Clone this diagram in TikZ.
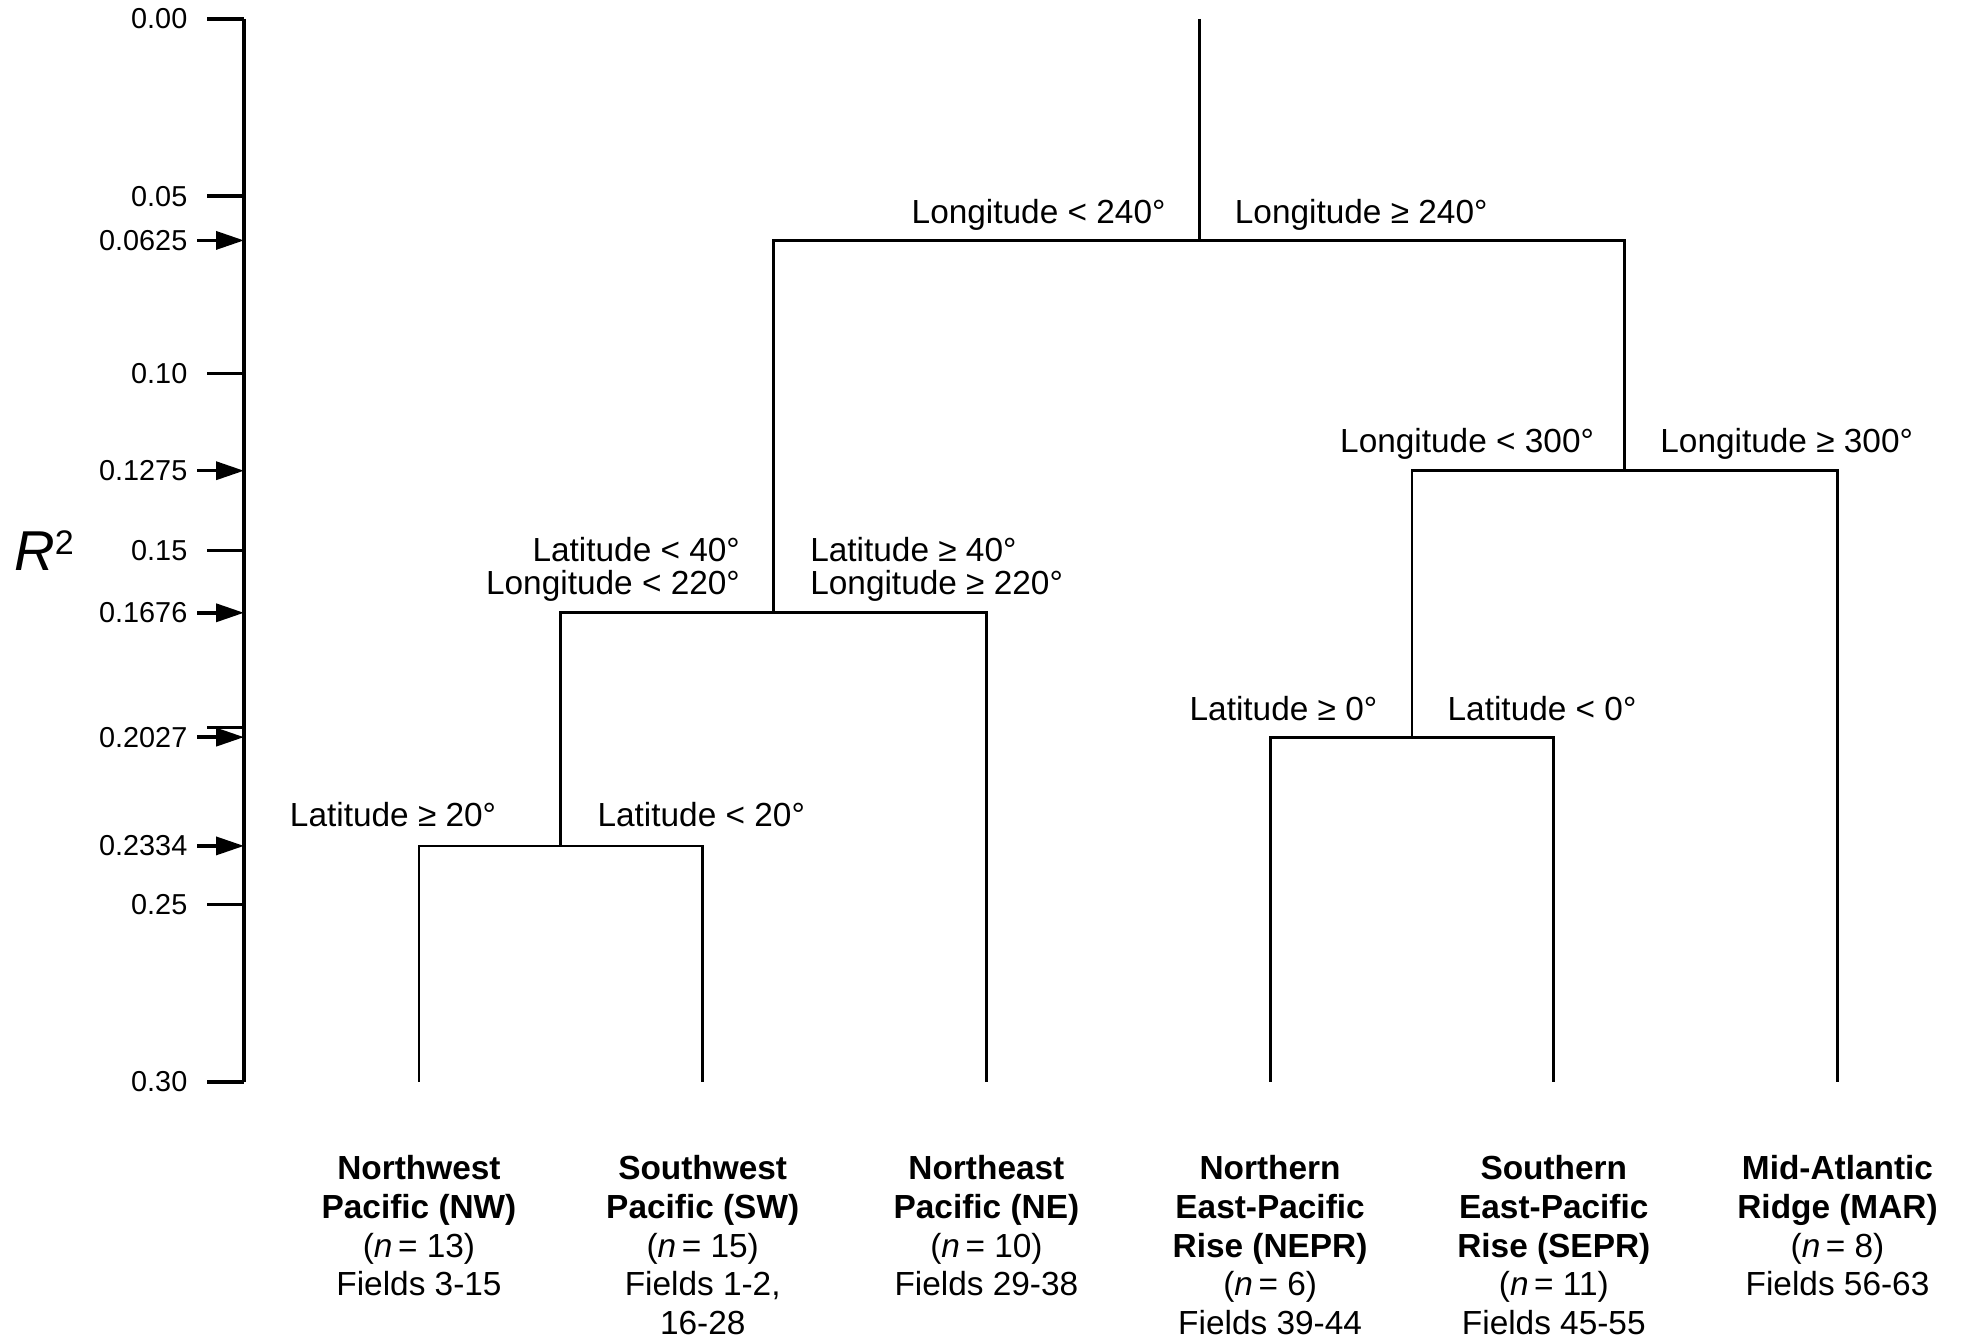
\documentclass[tikz,border=0pt]{standalone}
\usepackage{fontspec}
\setmainfont{Liberation Sans}
\usetikzlibrary{arrows.meta,positioning}

\tikzset{
  branch/.style={line width=0.8pt},
  axisline/.style={line width=1pt},
  cutarrow/.style={-{Triangle[length=2.8mm,width=1.8mm]},line width=1pt},
  ticklbl/.style={anchor=east,inner sep=0pt,font=\fontsize{8.2}{9}\selectfont},
  splitlbl/.style={inner sep=0pt,font=\fontsize{9.5}{9.3}\selectfont},
  leaflbl/.style={align=center,inner sep=0pt,font=\fontsize{9.5}{11}\selectfont}
}

\begin{document}
\begin{tikzpicture}[x=1cm,y=-35.43cm]
  \useasboundingbox (0,-0.00536) rectangle (19.65,0.37228);
  % R^2 axis
  \draw[axisline] (2.44,0) -- (2.44,0.30);
  \foreach \r/\t [count=\i] in {0/0.00,0.05/0.05,0.10/0.10,0.15/0.15,0.25/0.25,0.30/0.30} {
    \draw[axisline] (2.07,\r) -- (2.44,\r);
    \node[ticklbl] (tick\i) at (1.88,\r) {\t};
  }
  \draw[axisline] (2.07,0.20) -- (2.44,0.20);
  \foreach \r [count=\i] in {0.0625,0.1275,0.1676,0.2027,0.2334} {
    \node[ticklbl] (cut\i) at (1.88,\r) {\r};
    \coordinate (ax\i) at (2.44,\r);
    \draw[cutarrow] ([xshift=0.9mm]cut\i.east) -- (ax\i);
  }
  \node (rsq) at (0.44,0.15) {\fontsize{16}{18}\selectfont\textit{R}\raisebox{4.5pt}{\fontsize{9.7}{10}\selectfont 2}};

  % splits and leaves
  \coordinate (top) at (11.992,0);
  \coordinate (s240) at (11.992,0.0625);
  \coordinate (s220) at (7.736,0.1676);
  \coordinate (s300) at (16.247,0.1275);
  \coordinate (s20) at (5.6085,0.2334);
  \coordinate (s0) at (14.1195,0.2027);
  \foreach \n/\x in {nw/4.19,sw/7.027,ne/9.864,nepr/12.701,sepr/15.538,mar/18.375}
    \coordinate (\n) at (\x,0.30);

  \draw[branch] (top) -- (s240);
  \draw[branch] (s220) |- (s240) -| (s300);
  \draw[branch] (s20) |- (s220) -| (ne);
  \draw[branch] (nw) |- (s20) -| (sw);
  \draw[branch] (s0) |- (s300) -| (mar);
  \draw[branch] (nepr) |- (s0) -| (sepr);

  % split rules
  \node[splitlbl,anchor=base east] (lon240l) at ([xshift=-3.3mm,yshift=1.7mm]s240) {Longitude < 240°};
  \node[splitlbl,anchor=base west] (lon240r) at ([xshift=3.5mm,yshift=1.7mm]s240) {Longitude ≥ 240°};
  \node[splitlbl,anchor=base east] (lon300l) at ([xshift=-3.0mm,yshift=1.8mm]s300) {Longitude < 300°};
  \node[splitlbl,anchor=base west] (lon300r) at ([xshift=3.5mm,yshift=1.8mm]s300) {Longitude ≥ 300°};
  \node[splitlbl,anchor=south east,align=right] (pacl) at ([xshift=-3.3mm,yshift=1.1mm]s220) {Latitude < 40°\\Longitude < 220°};
  \node[splitlbl,anchor=south west,align=left] (pacr) at ([xshift=3.6mm,yshift=1.1mm]s220) {Latitude ≥ 40°\\Longitude ≥ 220°};
  \node[splitlbl,anchor=base east] (lat0l) at ([xshift=-3.4mm,yshift=1.7mm]s0) {Latitude ≥ 0°};
  \node[splitlbl,anchor=base west] (lat0r) at ([xshift=3.5mm,yshift=1.7mm]s0) {Latitude < 0°};
  \node[splitlbl,anchor=base east] (lat20l) at ([xshift=-6.4mm,yshift=1.9mm]s20) {Latitude ≥ 20°};
  \node[splitlbl,anchor=base west] (lat20r) at ([xshift=3.6mm,yshift=1.9mm]s20) {Latitude < 20°};

  % groups
  \node[leaflbl,below=7.3mm of nw] (nwlbl) {\textbf{Northwest}\\\textbf{Pacific (NW)}\\(\textit{n}\,= 13)\\Fields 3-15};
  \node[leaflbl,below=7.3mm of sw] (swlbl) {\textbf{Southwest}\\\textbf{Pacific (SW)}\\(\textit{n}\,= 15)\\Fields 1-2,\\16-28};
  \node[leaflbl,below=7.3mm of ne] (nelbl) {\textbf{Northeast}\\\textbf{Pacific (NE)}\\(\textit{n}\,= 10)\\Fields 29-38};
  \node[leaflbl,below=7.3mm of nepr] (neprlbl) {\textbf{Northern}\\\textbf{East-Pacific}\\\textbf{Rise (NEPR)}\\(\textit{n}\,= 6)\\Fields 39-44};
  \node[leaflbl,below=7.3mm of sepr] (seprlbl) {\textbf{Southern}\\\textbf{East-Pacific}\\\textbf{Rise (SEPR)}\\(\textit{n}\,= 11)\\Fields 45-55};
  \node[leaflbl,below=7.3mm of mar] (marlbl) {\textbf{Mid-Atlantic}\\\textbf{Ridge (MAR)}\\(\textit{n}\,= 8)\\Fields 56-63};
\end{tikzpicture}
\end{document}
